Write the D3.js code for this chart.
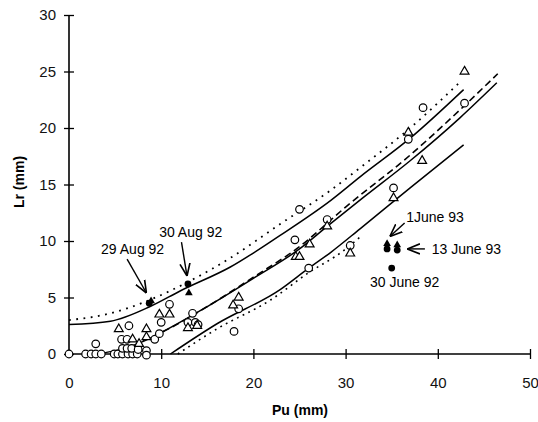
<!DOCTYPE html>
<html>
<head>
<meta charset="utf-8">
<script src="https://cdn.jsdelivr.net/npm/d3@7"></script>
<style>
  body { margin: 0; background: #fff; }
  svg { font-family: "Liberation Sans", Arial, sans-serif; }
</style>
</head>
<body>
<div id="chart"></div>
<script>
// curves: [Pu, Lr]
const upperDotted = [[0,3.0],[4.5,3.6],[8.8,4.8],[13.2,6.5],[17.5,8.5],[22.9,11.5],[28.4,14.5],[31.6,16.5],[37,20.0],[42.2,23.9]];
const upperSolid  = [[0,2.6],[4.5,2.9],[8.8,4.2],[12.1,5.6],[17.5,7.7],[22.9,10.5],[28.4,13.6],[31.6,15.7],[37,19.1],[42.8,23.4]];
const middleSolid = [[3,0],[6,0.5],[8,1.1],[10,1.9],[15,4.2],[20,6.7],[25,9.3],[28,11.3],[32,13.9],[37,17.1],[42.4,20.9],[46.4,24.0]];
const middleDashed = [[8,1.2],[10,1.9],[15,4.2],[20,6.8],[25,9.5],[30,13.0],[37,17.6],[42.4,21.6],[46.5,24.8]];
const lowerSolid  = [[11,0],[16.1,2.7],[22.9,5.7],[26,7.6],[28.4,9.0],[31.6,11.1],[37,14.7],[42.8,18.5]];
const lowerDotted = [[11.8,0],[16,2.2],[21.9,4.8],[26,7.2],[29.7,9.1],[31.5,10.3]];

// open symbols
const openCircles = [[0,0],[1.8,0],[2.4,0],[2.9,0],[3.5,0],[4.9,0],[5.3,0],[5.8,0],[6.4,0],[6.9,0],[7.4,0],[8.4,0.3],[8.4,-0.1],
  [2.9,0.9],[6.5,2.5],[5.7,1.3],[6.3,1.3],[5.8,0.5],[6.3,0.5],[6.8,0.5],[7.5,0.4],[9.3,1.3],[9.8,1.8],[10.9,4.4],[10,2.8],
  [13.4,3.6],[12.9,2.8],[13.7,2.8],[14,2.6],[17.9,2.0],[18.4,4.0],[25,12.8],[24.5,10.1],[26,7.6],[28,11.9],[30.5,9.6],
  [38.4,21.8],[36.8,19.0],[42.9,22.2],[35.2,14.7]];
const openTriangles = [[5.4,2.2],[6.9,1.3],[7.6,0.9],[8.4,2.2],[8.4,1.5],[9.8,3.5],[10.9,3.5],[12.9,2.3],[13.9,2.5],[17.8,4.3],
  [18.4,5.0],[24.6,8.6],[25.0,8.6],[26.1,9.7],[28.0,11.3],[30.5,8.9],[35.2,13.8],[36.8,19.6],[38.3,17.1],[42.9,25.0]];

// filled symbols (dated observations)
const filledCircles = [[8.7,4.5],[12.9,6.2],[35.0,7.6],[34.5,9.3],[35.6,9.2]];
const filledTriangles = [[8.9,4.7],[13.0,5.4],[34.5,9.75],[35.6,9.65]];

// annotations: label centre, arrow start, arrow end (data units)
const labels = [
  {text: "29 Aug 92", at: [6.9, 9.3]},
  {text: "30 Aug 92", at: [13.2, 10.8]},
  {text: "1June 93", at: [39.7, 12.1]},
  {text: "13 June 93", at: [43.1, 9.3]},
  {text: "30 June 92", at: [36.4, 6.4]}
];
const arrows = [
  {from: [6.3, 8.4], to: [8.4, 5.4]},
  {from: [12.2, 9.9], to: [12.8, 6.9]},
  {from: [36.4, 11.6], to: [34.8, 10.4]},
  {from: [38.6, 9.3], to: [36.7, 9.3]}
];

const xTicks = [0, 10, 20, 30, 40, 50];
const yTicks = [0, 5, 10, 15, 20, 25, 30];

const W = 538, H = 422;
const svg = d3.select("#chart").append("svg").attr("width", W).attr("height", H);

const x = d3.scaleLinear().domain([0, 50]).range([69, 530]);
const y = d3.scaleLinear().domain([0, 30]).range([354, 15]);

// arrowhead
svg.append("defs").append("marker")
  .attr("id", "head").attr("viewBox", "0 0 10 10")
  .attr("refX", 10).attr("refY", 5)
  .attr("markerWidth", 9).attr("markerHeight", 9)
  .attr("orient", "auto-start-reverse")
  .append("path").attr("d", "M0,1 L10,5 L0,9").attr("fill", "none")
  .attr("stroke", "#000").attr("stroke-width", 1.3);

// axes: ticks crossing the line
const yAxis = svg.append("g").attr("transform", `translate(${x(0)},0)`)
  .call(d3.axisLeft(y).tickValues(yTicks).tickSize(5).tickPadding(8));
yAxis.selectAll(".tick line").attr("x1", -5).attr("x2", 5);
const xAxis = svg.append("g").attr("transform", `translate(0,${y(0)})`)
  .call(d3.axisBottom(x).tickValues(xTicks).tickSize(5).tickPadding(18));
xAxis.selectAll(".tick line").attr("y1", -5).attr("y2", 5);
xAxis.selectAll(".tick").filter(d => d === 0).select("line").remove();
svg.selectAll(".domain").attr("stroke-width", 1.6);
yAxis.select(".domain").attr("d", `M0,${y(30)}V${y(0)}`);
xAxis.select(".domain").attr("d", `M${x(0)},0H${x(50)}`);
svg.selectAll(".tick line").attr("stroke-width", 1.3);
svg.selectAll(".tick text").style("font-size", "15px").attr("fill", "#111");

// axis titles
svg.append("text").attr("x", 300).attr("y", 415).attr("text-anchor", "middle")
  .style("font-size", "14px").style("font-weight", "bold").text("Pu (mm)");
svg.append("text").attr("transform", "translate(24,182) rotate(-90)").attr("text-anchor", "middle")
  .style("font-size", "14px").style("font-weight", "bold").text("Lr (mm)");

// curves
const line = d3.line().x(d => x(d[0])).y(d => y(d[1])).curve(d3.curveMonotoneX);
const curves = [
  {data: upperDotted, dash: "1.8,5.5", w: 1.8},
  {data: upperSolid, dash: null, w: 1.5},
  {data: middleSolid, dash: null, w: 1.5},
  {data: middleDashed, dash: "7,4", w: 1.6},
  {data: lowerSolid, dash: null, w: 1.5},
  {data: lowerDotted, dash: "1.8,4.5", w: 1.6}
];
svg.selectAll(".curve").data(curves).enter().append("path")
  .attr("class", "curve")
  .attr("d", d => line(d.data))
  .attr("fill", "none").attr("stroke", "#000")
  .attr("stroke-width", d => d.w)
  .attr("stroke-dasharray", d => d.dash);

// symbols
const tri = d3.symbol().type(d3.symbolTriangle).size(34);
svg.selectAll(".oc").data(openCircles).enter().append("circle")
  .attr("cx", d => x(d[0])).attr("cy", d => y(d[1])).attr("r", 3.8)
  .attr("fill", "#fff").attr("stroke", "#000").attr("stroke-width", 1.2);
svg.selectAll(".ot").data(openTriangles).enter().append("path")
  .attr("d", tri).attr("transform", d => `translate(${x(d[0])},${y(d[1])})`)
  .attr("fill", "#fff").attr("stroke", "#000").attr("stroke-width", 1.2);
svg.selectAll(".fc").data(filledCircles).enter().append("circle")
  .attr("cx", d => x(d[0])).attr("cy", d => y(d[1])).attr("r", 3.4).attr("fill", "#000");
svg.selectAll(".ft").data(filledTriangles).enter().append("path")
  .attr("d", d3.symbol().type(d3.symbolTriangle).size(26))
  .attr("transform", d => `translate(${x(d[0])},${y(d[1])})`).attr("fill", "#000");

// annotations
svg.selectAll(".lab").data(labels).enter().append("text")
  .attr("x", d => x(d.at[0])).attr("y", d => y(d.at[1])).attr("dy", "0.35em")
  .attr("text-anchor", "middle").style("font-size", "14px").text(d => d.text);
svg.selectAll(".arr").data(arrows).enter().append("line")
  .attr("x1", d => x(d.from[0])).attr("y1", d => y(d.from[1]))
  .attr("x2", d => x(d.to[0])).attr("y2", d => y(d.to[1]))
  .attr("stroke", "#000").attr("stroke-width", 1.4).attr("marker-end", "url(#head)");
</script>
</body>
</html>
